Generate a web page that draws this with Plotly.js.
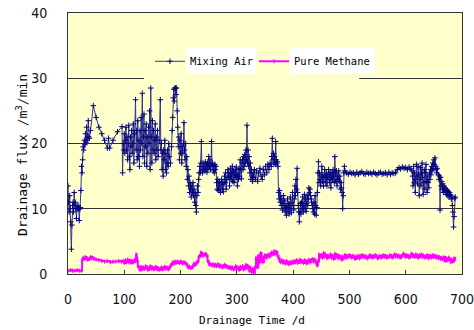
<!DOCTYPE html>
<html>
<head>
<meta charset="utf-8">
<script src="https://cdn.plot.ly/plotly-3.0.1.min.js"></script>
<style>html,body{margin:0;padding:0;background:#fff;}#chart{width:474px;height:330px;}</style>
</head>
<body>
<div id="chart"></div>
<script>
// Mixing Air: drainage time (d) and flux (m3/min)
var mixDays = [
0,1,2,3,4,5,6,7,8,9,
10,11,12,13,14,15,16,17,18,19,
20,21,22,23,24,25,26,27,28,29,
30,31,32,33,34,35,36,37,38,40,
45,50,55,60,65,70,72,74,80,88,
96,97,98,99,100,101,102,103,104,105,
106,107,108,109,110,111,112,113,114,115,
116,117,118,120,121,122,123,124,125,126,
127,128,129,130,131,132,133,134,135,136,
137,138,139,140,141,142,143,144,145,146,
147,148,149,150,151,152,153,154,155,156,
157,158,159,160,162,164,165,166,167,168,
169,170,171,172,173,174,175,176,177,178,
179,180,182,184,185,186,187,188,189,190,
191,192,193,194,195,196,197,198,199,200,
201,202,203,204,205,206,207,208,209,210,
211,212,213,214,215,216,217,218,219,220,
221,222,223,224,225,226,227,228,229,230,
231,232,233,234,235,236,237,238,239,240,
241,242,243,244,245,246,247,248,249,250,
251,252,253,254,255,256,257,258,259,260,
261,262,263,264,265,266,267,268,269,270,
271,272,273,274,275,276,277,278,279,280,
281,282,284,285,286,287,288,289,290,291,
292,293,294,295,296,297,298,299,300,301,
302,303,304,305,306,307,308,309,310,311,
312,313,314,315,316,317,318,319,320,321,
322,323,324,325,326,327,328,329,330,331,
333,335,337,339,341,343,345,347,349,351,
353,355,357,359,361,362,363,364,365,366,
367,368,369,370,371,372,373,374,375,376,
377,378,379,380,381,382,383,384,385,386,
387,388,389,390,391,392,393,394,395,396,
397,398,399,400,401,402,403,404,405,406,
407,408,409,410,411,412,413,414,415,416,
417,418,419,420,421,422,423,424,425,426,
427,428,429,430,431,432,433,434,435,436,
437,438,439,440,441,442,443,444,445,446,
447,448,449,450,451,452,453,454,455,456,
457,458,459,460,461,462,463,464,465,466,
467,468,469,470,471,472,473,474,475,476,
477,478,479,480,481,482,483,484,485,486,
487,488,489,490,491,492,495,498,501,504,
507,510,513,516,519,522,525,528,531,534,
537,540,543,546,549,552,555,558,561,564,
567,570,573,576,579,582,585,588,591,594,
597,600,603,606,609,611,612,613,614,615,
616,617,618,619,620,621,622,623,624,625,
626,627,628,629,630,631,632,633,634,635,
636,637,638,639,640,641,642,643,644,645,
646,647,648,649,650,651,652,653,654,655,
656,658,659,660,661,662,663,664,665,666,
667,668,669,670,671,672,673,674,675,676,
677,678,679,680,681,682,683,684,685,686,
687,688
];
var mixFlux = [
13.5,11,9.5,12,10,8,3.8,7.5,10.5,11,
9.5,12.5,10.5,11,10,8.5,10.5,10,10.5,10,
8.2,10,10.2,12.8,16.5,15.5,17.5,19.5,19,20.5,
19.8,21.5,20.2,22.5,20.5,21,23.5,21,20.8,22,
25.8,24,22.5,21.5,20.5,19.3,20.8,19.3,20.5,21.8,
22.6,15.5,20,19,21.5,18.5,20.5,22.5,19,21,
17.5,20,22.8,18,16,21,19.5,22,18.5,20,
23,17,21.5,26.7,19,22,17.5,23.5,18,20.5,
16.5,22,19,24,20,27.7,18,21,24.5,17,
22,19.5,23,16.5,21,18.5,22.5,20,25,16,
28.5,21,17,23.5,19,22,18.5,20.5,23,17.5,
21,19,22,18,20.5,26.7,19,20,16,18.5,
15,19,17.5,20.5,16,18.5,15.5,17,19,16.5,
20,18,17,19.5,22,24,27,28.3,26.5,28.5,
28.5,27.5,28.5,25,22.5,19.5,21,17.5,20.5,18.5,
21.5,17,19.5,18.5,20,23.2,19,17.5,20,16.5,
18,14.5,16,13.5,15,12.5,14,13,11.8,13.5,
12.5,14,12,13,11,12.5,10.5,9.5,12,13.5,
12.5,14.5,15.5,16.5,15.5,17,20.3,16,15.5,17,
16,16.5,15.8,17.2,16,16.8,15.6,17,16.2,18,
16.5,17.5,16,16.8,20.3,16.5,17,15.8,16.6,15.5,
16.8,16,16.5,14,13,14.5,12.8,13.5,14.2,13,
12.5,13.8,14.5,13,14,12.6,13.8,15,14,15.5,
13,14.5,16,14.8,15.5,13.5,15,16.2,14.5,15.5,
16.5,14.2,15.8,14,15.2,16,14.8,16.4,15,13.5,
15.5,14.5,16.2,15,17.5,16,14.6,17,17.5,16,
18,16.5,18.3,17,19,17.5,22.8,17,19,16.5,
18,15.5,17,14.5,16,15,14.2,15.5,14.8,16,
14.5,15.8,14.2,15.5,16.2,15,14.5,16,15.2,16.5,
15.5,16.8,16,17,16.5,18,20.8,17.5,18.5,17,
18,16.8,20.3,17.5,17,17.2,16.5,12.5,11.5,12.8,
11,12,10.5,11.5,9.8,10.8,12,10,11.2,9.5,
10.5,9,10.2,11.5,9.6,10.8,9.2,10.5,11.8,10,
9.4,11,12.5,10.5,9.8,11.5,13.5,12,14.5,13,
16.2,12.5,10.5,9.5,8,9.5,10.8,9.2,11,10,
11.8,9.5,10.5,12.2,10,11.5,9.6,10.8,12,10.5,
11.5,13.2,12.5,13,12,11.5,11,10.5,10,9.5,
11,9.2,12,10.5,9,10.2,12.5,15.5,17.2,14,
15.5,14.5,13.5,15,16.5,14.2,15.2,13.5,14.8,16,
15,14,15.5,13.5,15,14.5,16,15.2,14,15.6,
13.2,14.8,15.5,14.5,16,15,14,18,15.5,14.2,
15.8,13.5,15,14.5,15.8,14.2,15,13,14,13.2,
12.5,10,12,15.5,16.5,15.8,15.5,15.3,15.6,15.4,
15.5,15.2,15.6,15.3,15.5,15.7,15.4,15.3,15.6,15.4,
15.5,15.3,15.6,15.4,15.2,15.5,15.6,15.3,15.4,15.5,
15.2,15.6,15.3,15.5,15.4,15.5,16,16.3,16.1,16.4,
16.2,16.3,16,16.4,16.1,15.8,15,13.5,16.5,14,
15.5,12.5,14.5,16.8,15,13.8,16.5,15.2,12,14.5,
16.3,13.5,15.5,17,14.8,12.2,14,16,13,15.5,
16.8,14.2,12.5,15,14,13.2,15.5,14.5,16,15.2,
16.5,15.8,17,16.2,17.5,16.8,17.8,16.5,16,15.5,
16.2,15.2,14.5,15,9.8,14.8,13.5,14.2,13,13.8,
12.5,13.5,12.8,13.2,12.5,13,12.2,12.8,12,12.6,
11.8,12.5,12.2,12,11.5,11.8,10.5,9.5,7.2,8.8,
11.6,11.8
];

// Pure Methane: drainage time (d) and flux (m3/min)
var methDays = [
0,4,8,12,16,20,24,25,27,29,
31,33,35,38,40,43,46,50,55,60,
65,70,75,80,85,90,95,98,100,102,
104,106,108,110,112,114,116,118,120,121,
122,123,124,126,128,130,132,134,136,138,
140,142,144,146,148,150,152,154,156,158,
160,162,164,166,168,170,172,174,176,178,
180,182,184,186,188,190,192,194,196,198,
200,202,204,206,208,210,212,214,216,218,
220,222,224,226,228,230,232,234,236,238,
240,242,244,246,248,250,252,254,256,258,
260,262,264,266,268,270,272,274,276,278,
280,282,284,286,288,290,292,294,296,298,
300,302,304,306,308,310,312,314,316,318,
320,322,324,326,328,330,332,334,335,336,
338,340,342,344,346,348,350,352,354,356,
358,360,362,364,366,368,370,372,374,376,
378,380,382,384,386,388,390,392,394,396,
398,400,402,404,406,408,410,412,414,416,
418,420,422,424,426,428,430,432,434,436,
438,440,442,444,446,448,450,452,454,456,
458,460,462,464,466,468,470,472,474,476,
478,480,482,484,486,488,490,492,494,496,
498,500,502,504,506,508,510,512,514,516,
518,520,522,524,526,528,530,532,534,536,
538,540,542,544,546,548,550,552,554,556,
558,560,562,564,566,568,570,572,574,576,
578,580,582,584,586,588,590,592,594,596,
598,600,602,604,606,608,610,612,614,616,
618,620,622,624,626,628,630,632,634,636,
638,640,642,644,646,648,650,652,654,656,
658,660,662,664,666,668,670,672,674,676,
678,680,682,684,686,688
];
var methFlux = [
0.5,0.6,0.5,0.5,0.6,0.5,0.5,2.2,2.5,2.3,
2.6,2.4,2.2,2.3,2.6,2.5,2.3,2.2,2.1,2.0,
1.9,2.0,1.8,1.9,1.9,2.0,1.9,2.0,1.7,2.1,
1.8,2.2,1.8,2.1,1.7,2.0,1.8,2.2,2.0,3.0,
2.5,2.0,1.2,0.9,0.6,1.1,0.7,1.0,0.8,1.2,
0.9,0.6,1.0,1.2,0.8,1.0,0.7,0.9,1.1,0.7,
0.9,0.6,0.8,1.0,0.7,0.9,1.1,0.8,1.0,0.7,
1.0,1.3,1.5,1.8,1.6,1.9,1.7,1.9,1.8,1.7,
1.9,1.8,1.6,1.8,1.7,1.5,1.2,1.0,1.1,0.9,
1.0,1.3,1.6,1.4,1.7,1.9,2.6,2.8,3.3,2.8,
3.0,2.9,3.1,2.8,2.0,1.6,1.4,1.5,1.3,1.5,
1.2,1.4,1.2,1.5,1.3,1.1,1.3,1.0,1.2,1.4,
1.1,1.2,1.0,0.9,1.1,0.8,1.0,0.7,0.9,1.2,
0.8,1.0,0.6,1.1,0.9,1.2,0.7,1.0,1.4,0.9,
1.2,0.5,0.9,0.3,0.8,0.2,1.0,2.5,1.5,1.0,
2.8,1.8,3.2,2.4,1.8,2.6,2.9,2.5,2.8,3.0,
2.7,3.1,3.3,3.0,3.5,3.1,3.4,2.8,2.4,2.0,
1.8,2.1,1.7,1.9,1.6,2.0,1.7,1.5,1.8,1.6,
1.9,1.7,2.0,1.8,2.1,1.7,1.9,2.2,1.8,2.0,
1.7,2.1,1.9,1.6,2.0,2.2,1.8,2.1,2.3,1.9,
2.2,1.8,1.3,1.9,3.0,2.6,2.9,2.5,3.2,2.7,
2.9,2.4,2.8,2.6,3.0,2.5,2.8,2.3,3.1,2.6,
2.9,2.4,2.8,2.5,2.2,2.7,2.4,2.9,2.5,2.8,
2.6,2.9,2.7,2.5,2.8,2.6,2.3,2.7,2.5,2.8,
2.4,2.7,2.9,2.6,2.8,2.5,2.7,2.4,2.6,2.9,
2.7,2.5,2.8,2.6,2.9,2.7,2.4,2.6,2.8,2.5,
2.7,2.9,2.6,2.8,2.5,2.7,2.6,2.9,2.7,2.5,
2.8,3.0,2.7,2.9,2.6,2.8,2.5,2.7,2.9,3.1,
2.8,2.6,2.9,2.7,2.5,2.8,3.1,2.7,2.9,2.6,
3.0,2.7,2.5,2.9,2.7,3.0,2.6,2.8,2.5,2.7,
2.9,2.4,2.7,2.8,2.5,2.9,2.6,2.8,2.5,2.7,
2.4,2.6,2.3,2.5,2.2,2.6,2.0,2.4,2.1,2.5,
2.3,1.8,2.2,1.9,2.4,2.3
];

var xTicks = [0, 100, 200, 300, 400, 500, 600, 700];
var yTicks = [0, 10, 20, 30, 40];
var seriesNames = ['Mixing Air', 'Pure Methane'];
var xTitle = 'Drainage Time /d';
var yTitle = 'Drainage flux /m<sup>3</sup>/min';

var plotBg = '#FFFFCC';
var monoFont = 'DejaVu Sans Mono, Liberation Mono, monospace';
var tickFontFamily = 'Liberation Sans Narrow, DejaVu Sans Condensed, Liberation Sans, Arial';

var traces = [
  {
    x: mixDays, y: mixFlux, name: seriesNames[0], type: 'scatter', mode: 'lines+markers',
    legend: 'legend',
    line: {color: '#33338a', width: 1},
    marker: {symbol: 'cross-thin-open', size: 4, color: '#000080', line: {color: '#000080', width: 1}}
  },
  {
    x: methDays, y: methFlux, name: seriesNames[1], type: 'scatter', mode: 'lines+markers',
    legend: 'legend2',
    line: {color: '#FF00FF', width: 2, shape: 'hv'},
    marker: {symbol: 'line-ns-open', size: 3, color: '#FF00FF', line: {color: '#FF00FF', width: 1}}
  }
];

var legendCommon = {
  orientation: 'h', xanchor: 'left', y: 0.815, yanchor: 'middle',
  bgcolor: 'rgba(0,0,0,0)', borderwidth: 0,
  font: {family: monoFont, size: 10.5, color: '#000'}
};

var layout = {
  width: 474, height: 330,
  margin: {l: 68, r: 12, t: 13, b: 56, pad: 0},
  paper_bgcolor: '#FFFFFF',
  plot_bgcolor: plotBg,
  showlegend: true,
  legend: Object.assign({}, legendCommon, {x: 0.208}),
  legend2: Object.assign({}, legendCommon, {x: 0.472}),
  xaxis: {
    range: [0, 700], tickvals: xTicks, ticktext: xTicks.map(String),
    showgrid: false, zeroline: false,
    showline: true, linecolor: '#333', linewidth: 1, mirror: true,
    ticks: 'inside', ticklen: 4, tickcolor: '#333', tickwidth: 1,
    ticklabelstandoff: 12, ticklabeloverflow: 'allow',
    tickfont: {family: tickFontFamily, size: 14, color: '#111'}
  },
  yaxis: {
    range: [0, 40], tickvals: yTicks, ticktext: yTicks.map(String),
    showgrid: true, gridcolor: '#333', gridwidth: 1.3, zeroline: false,
    showline: true, linecolor: '#333', linewidth: 1, mirror: true,
    ticks: '', ticklabelstandoff: 17, ticklabeloverflow: 'allow',
    tickfont: {family: tickFontFamily, size: 14, color: '#111'}
  },
  shapes: [
    {type: 'rect', xref: 'paper', yref: 'paper', x0: 0.193, x1: 0.739, y0: 0.735, y1: 0.765,
     fillcolor: plotBg, line: {width: 0}, layer: 'above'},
    {type: 'rect', xref: 'paper', yref: 'paper', x0: 0.30, x1: 0.477, y0: 0.766, y1: 0.866,
     fillcolor: '#FFFFFF', line: {width: 0}, layer: 'above'},
    {type: 'rect', xref: 'paper', yref: 'paper', x0: 0.563, x1: 0.779, y0: 0.766, y1: 0.866,
     fillcolor: '#FFFFFF', line: {width: 0}, layer: 'above'}
  ],
  annotations: [
    {text: xTitle, xref: 'paper', yref: 'paper', x: 0.467, y: -0.18, xanchor: 'center', yanchor: 'middle',
     showarrow: false, font: {family: monoFont, size: 11, color: '#000'}},
    {text: yTitle, xref: 'paper', yref: 'paper', x: -0.117, y: 0.456, xanchor: 'center', yanchor: 'middle',
     textangle: -90, showarrow: false, font: {family: monoFont, size: 13, color: '#000'}}
  ]
};

Plotly.newPlot('chart', traces, layout, {displayModeBar: false, staticPlot: true});
</script>
</body>
</html>
